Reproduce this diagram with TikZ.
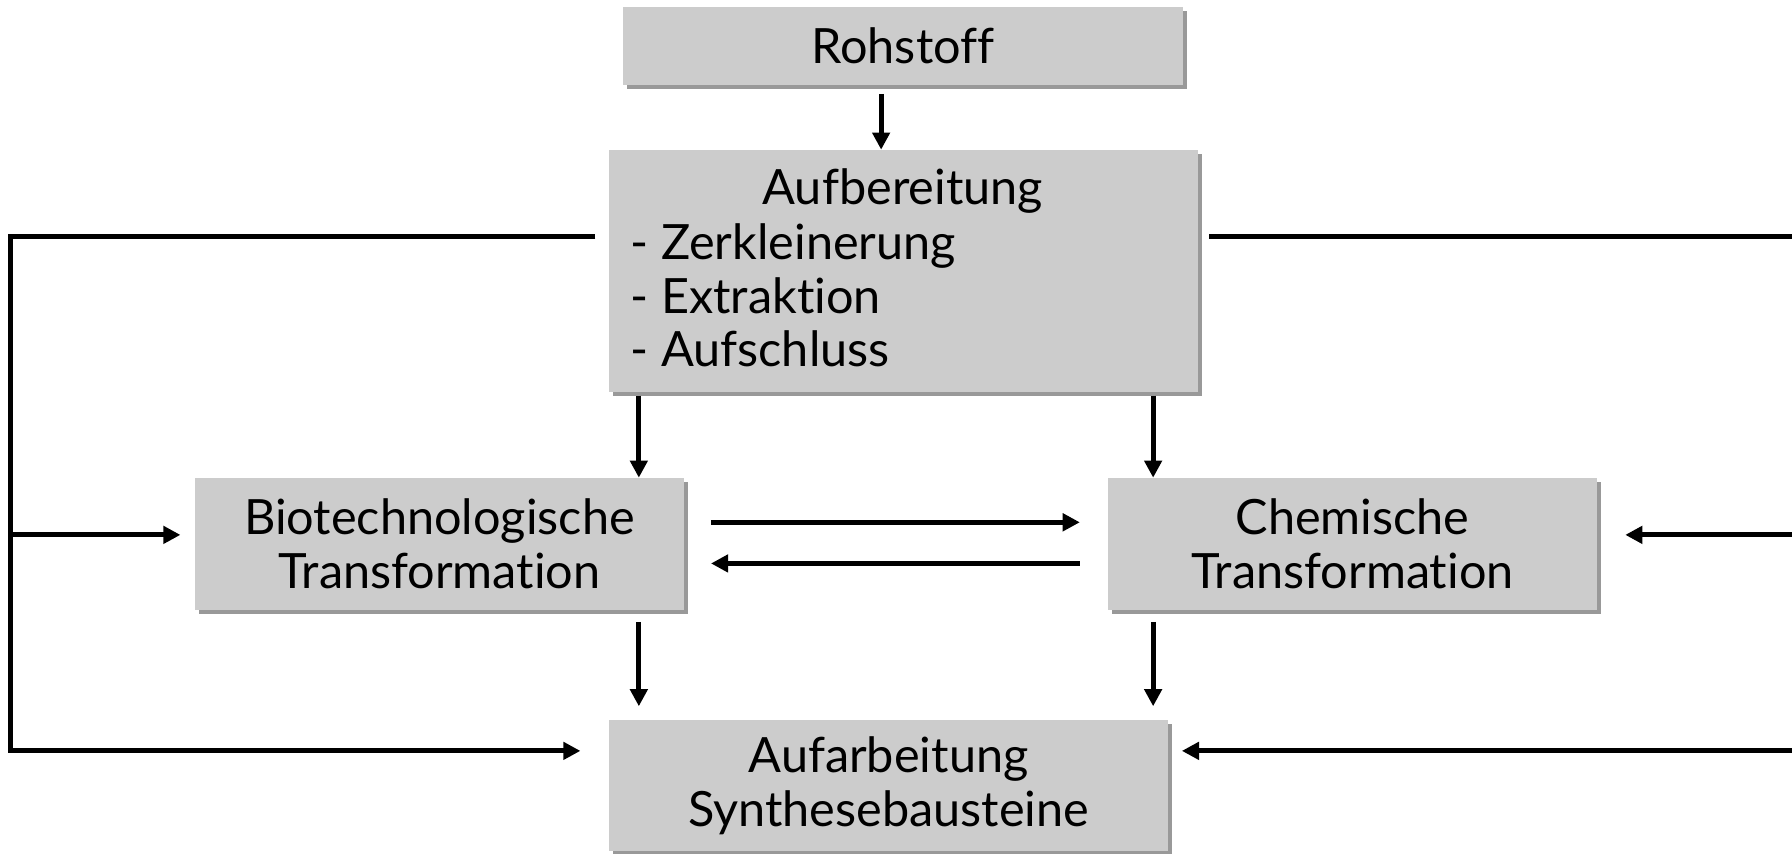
\documentclass[tikz,border=0pt]{standalone}
\usepackage{fontspec}
\setmainfont{Lato}[Ligatures=NoCommon]
\usetikzlibrary{arrows.meta,calc}
\definecolor{boxgray}{HTML}{CCCCCC}
\definecolor{shadowgray}{HTML}{999999}
\begin{document}
\begin{tikzpicture}[x=0.01cm,y=-0.01cm,
  lbl/.style={font=\fontsize{12.1}{13.4}\selectfont},
  box/.style={lbl, fill=boxgray, inner sep=0pt, outer sep=0pt, align=center,
    preaction={fill=shadowgray, transform canvas={xshift=0.035cm,yshift=-0.035cm}}},
  txt/.style={lbl, inner sep=0pt},
  ln/.style={line width=1.3pt},
  arr/.style={ln, -{Triangle[length=0.15cm,width=0.15cm]}}]
\useasboundingbox (0,0) rectangle (1568,747);
% boxes
\node[box, minimum width=4.90cm, minimum height=0.68cm] (roh) at (790,40) {Rohstoff};
\node[box, minimum width=5.15cm, minimum height=2.12cm] (aufb) at (790.5,237) {};
\node[txt, anchor=base] (aufbT) at (790,179) {Aufbereitung};
\node[txt, anchor=base west] (aufbZ) at (551,227) {- Zerkleinerung};
\node[txt, anchor=base west] (aufbE) at (551,274) {- Extraktion};
\node[txt, anchor=base west] (aufbA) at (551,321) {- Aufschluss};
\node[box, minimum width=4.27cm, minimum height=1.16cm] (bio) at (384.5,476) {Biotechnologische\\Transformation};
\node[box, minimum width=4.27cm, minimum height=1.16cm] (chem) at (1183.5,476) {Chemische\\Transformation};
\node[box, minimum width=4.89cm, minimum height=1.15cm] (aufa) at (777.5,687.5) {Aufarbeitung\\Synthesebausteine};
% vertical connectors
\coordinate (rA) at ($(roh.south)+(-19,8)$);
\draw[arr] (rA) -- (rA |- aufb.north);
\coordinate (aB1) at ($(aufb.south)+(-231.5,3)$);
\draw[arr] (aB1) -- (aB1 |- bio.north);
\coordinate (aB2) at ($(aufb.south)+(218.5,3)$);
\draw[arr] (aB2) -- (aB2 |- chem.north);
\coordinate (bB) at ($(bio.south)+(174.5,10)$);
\draw[arr] (bB) -- ($(bB |- aufa.north)+(0,-12)$);
\coordinate (cB) at ($(chem.south)+(-174.5,10)$);
\draw[arr] (cB) -- ($(cB |- aufa.north)+(0,-12)$);
% horizontal exchange
\coordinate (h1) at ($(bio.east)+(24,-19)$);
\draw[arr] (h1) -- ($(h1 -| chem.west)+(-25,0)$);
\coordinate (h2) at ($(chem.west)+(-25,17)$);
\draw[arr] (h2) -- ($(h2 -| bio.east)+(24,0)$);
% left loop
\coordinate (L0) at ($(aufb.west)+(-12,-30)$);
\coordinate (Lx) at (9,0);
\coordinate (Ltop) at (Lx |- L0);
\coordinate (Lmid) at (9,468);
\coordinate (Lbot) at (9,657);
\draw[arr] (L0) -- (Ltop) -- (Lbot) -- ($(Lbot -| aufa.west)+(-25,0)$);
\draw[arr] (Lmid) -- ($(Lmid -| bio.west)+(-13,0)$);
% right side
\coordinate (R0) at ($(aufb.east)+(10,-30)$);
\coordinate (Rx) at (1568,0);
\coordinate (Rtop) at (Rx |- R0);
\coordinate (Rmid) at (1568,468);
\coordinate (Rbot) at (1568,657);
\draw[ln] (R0) -- (Rtop);
\draw[arr] (Rmid) -- ($(Rmid -| chem.east)+(25,0)$);
\draw[arr] (Rbot) -- ($(Rbot -| aufa.east)+(12,0)$);
\end{tikzpicture}
\end{document}
